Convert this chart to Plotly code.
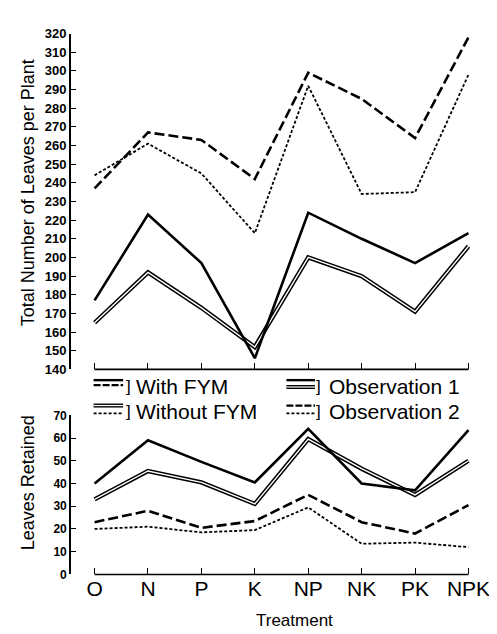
import plotly.graph_objects as go

# ---------------- data ----------------
treatments = ["O", "N", "P", "K", "NP", "NK", "PK", "NPK"]

# Total number of leaves per plant
total_obs1_with_fym = [177, 223, 197, 146, 224, 210, 197, 213]
total_obs1_without_fym = [165, 192, 173, 152, 200, 190, 171, 206]
total_obs2_with_fym = [237, 267, 263, 242, 299, 285, 264, 318]
total_obs2_without_fym = [244, 261, 245, 213, 292, 234, 235, 298]

# Leaves retained
ret_obs1_with_fym = [40, 59, 49.5, 40.5, 64, 40, 37, 63.5]
ret_obs1_without_fym = [33, 45.5, 40.5, 31, 59.5, 46.5, 35, 50]
ret_obs2_with_fym = [23, 28, 20.5, 23.5, 35, 23, 18, 30.5]
ret_obs2_without_fym = [20, 21, 18.5, 19.5, 29.5, 13.5, 14, 12]

top_ticks = list(range(140, 321, 10))
bottom_ticks = list(range(0, 71, 10))

# ---------------- layout helpers ----------------
W, H = 497, 634
FONT = "Liberation Sans"


def px(x):
    return x / W


def py(y):
    return 1 - y / H


SOLID = dict(color="black", width=2.6)
DASHED = dict(color="black", width=2.6, dash="10px,4px")
DOTTED = dict(color="black", width=1.8, dash="3px,2px")
DOUBLE_OUT = dict(color="black", width=4.4)
DOUBLE_IN = dict(color="white", width=1.4)

fig = go.Figure()


def add_set(xa, ya, s_with1, s_without1, s_with2, s_without2):
    common = dict(x=treatments, mode="lines", xaxis=xa, yaxis=ya,
                  showlegend=False, hoverinfo="skip")
    fig.add_trace(go.Scatter(y=s_without2, line=DOTTED, **common))
    fig.add_trace(go.Scatter(y=s_with2, line=DASHED, **common))
    fig.add_trace(go.Scatter(y=s_without1, line=DOUBLE_OUT, **common))
    fig.add_trace(go.Scatter(y=s_without1, line=DOUBLE_IN, **common))
    fig.add_trace(go.Scatter(y=s_with1, line=SOLID, **common))


add_set("x", "y", total_obs1_with_fym, total_obs1_without_fym,
        total_obs2_with_fym, total_obs2_without_fym)
add_set("x2", "y2", ret_obs1_with_fym, ret_obs1_without_fym,
        ret_obs2_with_fym, ret_obs2_without_fym)

# axis geometry (pixels)
y_axis_px = 64
first_cat_px, last_cat_px = 88, 468
unit = (last_cat_px - first_cat_px) / (len(treatments) - 1)
right_px = 482
x_range = [-(first_cat_px - y_axis_px) / unit,
           len(treatments) - 1 + (right_px - last_cat_px) / unit]
x_domain = [px(y_axis_px), px(right_px)]

top_dom = [py(363), py(19)]
bot_dom = [py(573), py(410)]

xcommon = dict(type="category", range=x_range, domain=x_domain,
               showline=False, showgrid=False, zeroline=False,
               ticks="inside", ticklen=6, tickwidth=1.3, tickcolor="black",
               tickvals=treatments)

ycommon = dict(showline=True, linecolor="black", linewidth=1.6,
               showgrid=False, zeroline=False, ticks="inside", ticklen=5,
               tickwidth=1.3, tickcolor="black")

fig.update_layout(
    width=W, height=H,
    margin=dict(l=0, r=0, t=0, b=0),
    paper_bgcolor="white", plot_bgcolor="white",
    font=dict(family=FONT, color="black"),
    xaxis=dict(anchor="y", showticklabels=False, **xcommon),
    yaxis=dict(domain=top_dom, range=[140, 320], tickvals=top_ticks,
               anchor="x", tickfont=dict(size=13, family=FONT, weight="bold"),
               **ycommon),
    xaxis2=dict(anchor="y2", showticklabels=True,
                tickfont=dict(size=21, family=FONT), **xcommon),
    yaxis2=dict(domain=bot_dom, range=[0, 70], tickvals=bottom_ticks,
                anchor="x2", tickfont=dict(size=12, family=FONT, weight="bold"),
                **ycommon),
)

# x axis lines spanning only from first to last treatment
shapes = []
for xr, yr in (("x", "y domain"), ("x2", "y2 domain")):
    shapes.append(dict(type="line", xref=xr, yref=yr, x0=0,
                       x1=len(treatments) - 1, y0=0, y1=0,
                       line=dict(color="black", width=1.6)))

# ---------------- custom legend ----------------
legend_rows = [
    # (x0, x1, y_top, y_bottom, top, bottom, label, bracket_x, label_x, label_y)
    (87, 117, 374, 379, "solid", "dashed", "With FYM", 119, 129, 380),
    (87, 117, 400, 408, "double", "dotted", "Without FYM", 119, 129, 406),
    (283, 312, 374, 381, "solid", "double", "Observation 1", 312, 325, 380),
    (283, 312, 400, 408, "dashed", "dotted", "Observation 2", 312, 325, 406),
]
styles = {
    "solid": [dict(color="black", width=2.4)],
    "dashed": [dict(color="black", width=2.2, dash="7px,2px")],
    "dotted": [dict(color="black", width=1.6, dash="3px,2px")],
    "double": [dict(color="black", width=4.0), dict(color="white", width=1.2)],
}
annotations = []
for x0, x1, yt, yb, st, sb, label, bx, lx, ly in legend_rows:
    for yy, st_name in ((yt, st), (yb, sb)):
        for ln in styles[st_name]:
            shapes.append(dict(type="line", xref="paper", yref="paper",
                               x0=px(x0), x1=px(x1), y0=py(yy), y1=py(yy),
                               line=ln))
    annotations.append(dict(text="]", x=px(bx), y=py(ly),
                            xref="paper", yref="paper", xanchor="left",
                            yanchor="middle", showarrow=False, borderpad=0,
                            font=dict(size=17, family=FONT, color="black")))
    annotations.append(dict(text=label, x=px(lx), y=py(ly),
                            xref="paper", yref="paper", xanchor="left",
                            yanchor="middle", showarrow=False, borderpad=0,
                            font=dict(size=21, family=FONT, color="black")))

# axis titles
annotations.append(dict(text="Total Number of Leaves per Plant", x=px(20),
                        y=py(182), xref="paper", yref="paper",
                        xanchor="center", yanchor="middle",
                        textangle=-90, showarrow=False,
                        font=dict(size=18, family=FONT, color="black")))
annotations.append(dict(text="Leaves Retained", x=px(20), y=py(479),
                        xref="paper", yref="paper", textangle=-90,
                        xanchor="center", yanchor="middle",
                        showarrow=False,
                        font=dict(size=18, family=FONT, color="black")))
annotations.append(dict(text="Treatment", x=px(291), y=py(620),
                        xref="paper", yref="paper", showarrow=False,
                        xanchor="center", yanchor="middle",
                        font=dict(size=17, family=FONT, color="black")))

fig.update_layout(shapes=shapes, annotations=annotations)

fig.write_html("out.html")
